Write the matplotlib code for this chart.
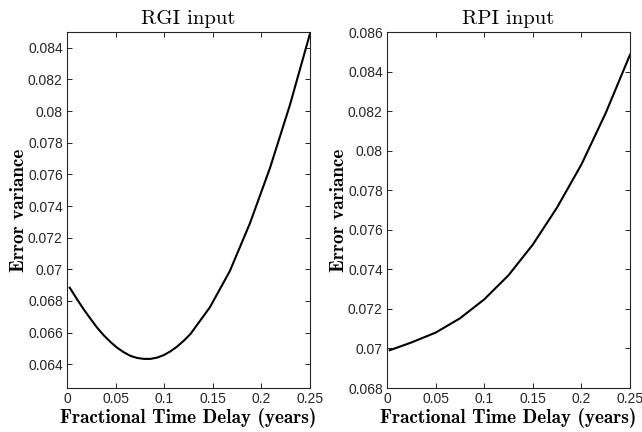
import matplotlib
matplotlib.use("Agg")
import matplotlib.pyplot as plt
from matplotlib.ticker import FuncFormatter

# Data
delay_rgi = [0.0028, 0.0103, 0.0172, 0.0241, 0.0309, 0.0378, 0.0447, 0.0515, 0.0584,
             0.0653, 0.0721, 0.079, 0.0859, 0.0927, 0.0996, 0.1065, 0.1133, 0.1202,
             0.1271, 0.147, 0.1676, 0.1882, 0.2088, 0.2294, 0.25]
rgi_err = [0.06884, 0.06811, 0.06747, 0.06688, 0.06632, 0.06583, 0.06541, 0.06505, 0.06476,
           0.06453, 0.0644, 0.06434, 0.06434, 0.06442, 0.06458, 0.06482, 0.06512, 0.06549,
           0.06592, 0.0676, 0.0699, 0.07291, 0.0764, 0.0804, 0.0849]
delay_rpi = [0.0028, 0.025, 0.05, 0.075, 0.1, 0.125, 0.15, 0.175, 0.2, 0.225, 0.25]
rpi_err = [0.06991, 0.0703, 0.0708, 0.07152, 0.07248, 0.0737, 0.07525, 0.07713, 0.0793,
           0.0819, 0.08485]

titles = ["RGI input", "RPI input"]
xlabel = "Fractional Time Delay (years)"
ylabel = "Error variance"
xticks = [0, 0.05, 0.1, 0.15, 0.2, 0.25]
yticks_rgi = [0.064, 0.066, 0.068, 0.07, 0.072, 0.074, 0.076, 0.078, 0.08, 0.082, 0.084]
yticks_rpi = [0.068, 0.07, 0.072, 0.074, 0.076, 0.078, 0.08, 0.082, 0.084, 0.086]

plt.rcParams['font.family'] = ['Liberation Sans', 'DejaVu Sans']

fig = plt.figure(figsize=(6.42, 4.32), dpi=100)
ax1 = fig.add_axes([67/642, 1-388/432, 243/642, 356/432])
ax2 = fig.add_axes([387/642, 1-388/432, 243/642, 356/432])

fmt = FuncFormatter(lambda v, p: "%g" % round(v, 6))

def style(ax, x, y, title, yticks, ylim):
    ax.plot(x, y, color="black", lw=1.5, solid_joinstyle="round")
    ax.set_xlim(0, 0.25)
    ax.set_ylim(*ylim)
    ax.set_xticks(xticks)
    ax.set_yticks(yticks)
    ax.xaxis.set_major_formatter(fmt)
    ax.yaxis.set_major_formatter(fmt)
    ax.tick_params(direction="in", length=3.5, width=0.7, top=True, right=True,
                   labelsize=10, colors="#262626", labelcolor="#262626", pad=3)
    for s in ax.spines.values():
        s.set_linewidth(0.8)
        s.set_color("#262626")
    ax.set_title(title, fontfamily="cmr10", fontsize=15, pad=6)
    ax.set_xlabel(xlabel, fontfamily="cmb10", fontsize=13.9, labelpad=1)
    ax.set_ylabel(ylabel, fontfamily="cmb10", fontsize=13.9, labelpad=0)

style(ax1, delay_rgi, rgi_err, titles[0], yticks_rgi, (0.0625, 0.085))
style(ax2, delay_rpi, rpi_err, titles[1], yticks_rpi, (0.068, 0.086))

fig.savefig("out.png", dpi=100)
